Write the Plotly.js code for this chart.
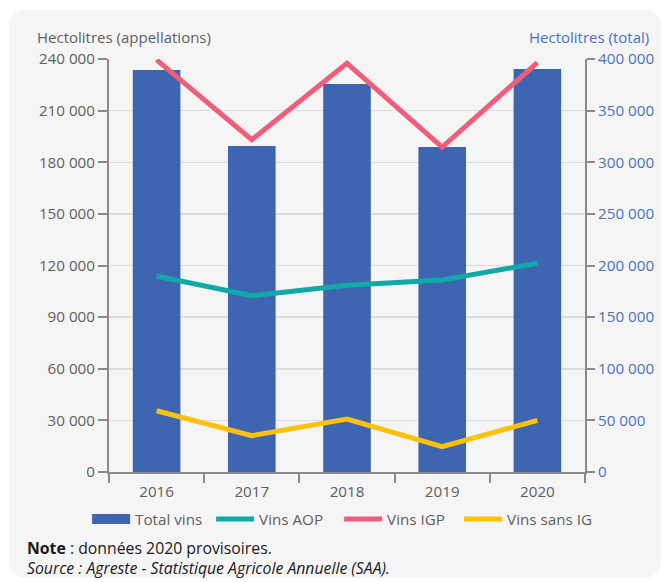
<!DOCTYPE html>
<html>
<head>
<meta charset="utf-8">
<script src="https://cdn.plot.ly/plotly-3.0.1.min.js"></script>
<style>
  html, body { margin:0; padding:0; background:#ffffff; }
  #panel { position:absolute; left:9px; top:10px; width:652px; height:568px; background:#f5f5f5; border-radius:16px; }
  #chart { position:absolute; left:0; top:0; width:662px; height:582px; }
</style>
</head>
<body>
<div id="panel"></div>
<div id="chart"></div>
<script>
const years = ['2016', '2017', '2018', '2019', '2020'];
const totalVins = [389300, 315700, 375800, 314800, 390300];
const vinsAOP = [113900, 102400, 108500, 111600, 121300];
const vinsIGP = [239500, 193100, 237500, 188800, 237900];
const vinsSansIG = [35600, 21100, 30800, 14700, 30000];

const cBar = '#3e66b0', cAOP = '#10a9a8', cIGP = '#ef5f7b', cSans = '#fec10c';
const grey = '#5f5f5f';
const font = 'Open Sans, sans-serif';

const traces = [
  { type:'bar', x: years, y: totalVins, marker:{color:cBar}, yaxis:'y', showlegend:false, hoverinfo:'skip' },
  { type:'scatter', mode:'lines', x:[null], y:[null], name:'Total vins', line:{color:cBar, width:13}, yaxis:'y2', legendwidth:71 },
  { type:'scatter', mode:'lines', x: years, y: vinsAOP, name:'Vins AOP', line:{color:cAOP, width:5, shape:'linear'}, yaxis:'y2', legendwidth:75 },
  { type:'scatter', mode:'lines', x: years, y: vinsIGP, name:'Vins IGP', line:{color:cIGP, width:5}, yaxis:'y2', legendwidth:67 },
  { type:'scatter', mode:'lines', x: years, y: vinsSansIG, name:'Vins sans IG', line:{color:cSans, width:5}, yaxis:'y2' }
];

const layout = {
  width:662, height:582,
  paper_bgcolor:'rgba(0,0,0,0)', plot_bgcolor:'#f5f5f5',
  margin:{l:109, r:77, t:59, b:110, pad:0, autoexpand:false},
  separators:', ',
  font:{family:font, size:15, color:grey},
  bargap:0.5,
  showlegend:true,
  xaxis:{ type:'category', categoryorder:'array', categoryarray: years,
    showline:true, linecolor:'#8a8a8a', linewidth:2, ticks:'outside', ticklen:9, tickwidth:2, tickcolor:'#8a8a8a',
    tickson:'boundaries', showgrid:false, tickfont:{size:15.2, color:grey}, zeroline:false, ticklabelstandoff:5, tickangle:0 },
  yaxis:{ side:'right', range:[0,400000], dtick:50000, tick0:0, tickformat:',d',
    showline:true, linecolor:'#8a8a8a', linewidth:2, ticks:'outside', ticklen:8, tickwidth:2, tickcolor:'#8a8a8a',
    showgrid:true, gridcolor:'#dcdcdc', gridwidth:1.5, zeroline:false, tickfont:{size:15.2, color:'#4a72c0'} },
  yaxis2:{ side:'left', overlaying:'y', range:[0,240000], dtick:30000, tick0:0, tickformat:',d',
    showline:true, linecolor:'#8a8a8a', linewidth:2, ticks:'outside', ticklen:9, tickwidth:2, tickcolor:'#8a8a8a',
    showgrid:false, zeroline:false, tickfont:{size:15.2, color:grey} },
  legend:{ orientation:'h', x:-0.046, xanchor:'left', y:-0.114, yanchor:'middle',
    font:{size:15.2, color:grey}, bgcolor:'rgba(0,0,0,0)', itemwidth:38, traceorder:'normal' },
  annotations:[
    { xref:'paper', yref:'paper', x:-0.155, y:1.053, xanchor:'left', yanchor:'middle', showarrow:false,
      text:'Hectolitres (appellations)', font:{size:15, color:grey} },
    { xref:'paper', yref:'paper', x:1.139, y:1.053, xanchor:'right', yanchor:'middle', showarrow:false,
      text:'Hectolitres (total)', font:{size:15, color:'#4a72c0'} },
    { xref:'paper', yref:'paper', x:-0.1765, y:-0.184, xanchor:'left', yanchor:'middle', showarrow:false,
      text:'<b>Note</b> : données 2020 provisoires.', font:{size:15.8, color:'#1a1a1a'} },
    { xref:'paper', yref:'paper', x:-0.1765, y:-0.232, xanchor:'left', yanchor:'middle', showarrow:false,
      text:'<i>Source : Agreste - Statistique Agricole Annuelle (SAA).</i>', font:{size:15.8, color:'#1a1a1a'} }
  ]
};

Plotly.newPlot('chart', traces, layout, {displayModeBar:false, staticPlot:true});
</script>
</body>
</html>
